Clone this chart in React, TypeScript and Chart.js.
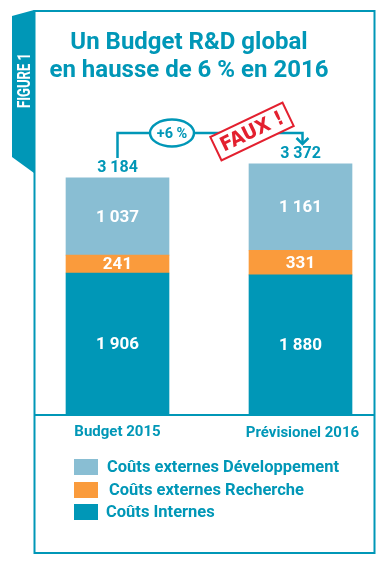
import React, { useEffect, useRef } from "react";
import { Chart, registerables } from "chart.js";

Chart.register(...registerables);

const categories = ["Budget 2015", "Prévisionel 2016"];
const coutsInternes = [1906, 1880];
const coutsRecherche = [241, 331];
const coutsDeveloppement = [1037, 1161];
const totals = [3184, 3372];
const seriesNames = ["Coûts externes Développement", "Coûts externes Recherche", "Coûts Internes"];
const titleLines = ["Un Budget R&D global", "en hausse de 6 % en 2016"];
const growthLabel = "+6 %";
const stampLabel = "FAUX !";
const figureLabel = "FIGURE 1";

const TEAL = "#0097b7";
const LIGHT = "#89bed3";
const ORANGE = "#fa9b3c";
const RED = "#e3202f";

const fmt = (n: number) => n.toString().replace(/\B(?=(\d{3})+(?!\d))/g, " ");

const decorPlugin = {
  id: "decor",
  beforeDraw(chart: any) {
    const ctx = chart.ctx as CanvasRenderingContext2D;
    ctx.save();
    ctx.fillStyle = "#ffffff";
    ctx.fillRect(0, 0, chart.width, chart.height);
    // frame
    ctx.strokeStyle = TEAL;
    ctx.lineWidth = 2;
    ctx.strokeRect(34.5, 11, 340, 542);
    // tab
    ctx.fillStyle = TEAL;
    ctx.beginPath();
    ctx.moveTo(12, 16);
    ctx.lineTo(34, 10);
    ctx.lineTo(34, 173);
    ctx.lineTo(12, 157);
    ctx.closePath();
    ctx.fill();
    // FIGURE 1
    ctx.save();
    ctx.translate(25, 80.5);
    ctx.rotate(-Math.PI / 2);
    ctx.font = "bold 18px Roboto";
    const w = ctx.measureText(figureLabel).width;
    ctx.scale(55 / w, 1);
    ctx.fillStyle = "#ffffff";
    ctx.textAlign = "center";
    ctx.textBaseline = "middle";
    ctx.fillText(figureLabel, 0, 0);
    ctx.restore();
    // title
    ctx.fillStyle = TEAL;
    ctx.font = "bold 24px Roboto";
    ctx.textAlign = "center";
    ctx.textBaseline = "middle";
    ctx.fillText(titleLines[0], 189, 43);
    ctx.fillText(titleLines[1], 189, 71);
    ctx.restore();
  },
  afterDatasetsDraw(chart: any) {
    const ctx = chart.ctx as CanvasRenderingContext2D;
    ctx.save();
    ctx.textAlign = "center";
    ctx.textBaseline = "middle";
    // values inside bars
    ctx.fillStyle = "#ffffff";
    ctx.font = "bold 17px Roboto";
    chart.data.datasets.forEach((ds: any, di: number) => {
      const meta = chart.getDatasetMeta(di);
      meta.data.forEach((bar: any, i: number) => {
        const cy = (bar.y + bar.base) / 2;
        ctx.fillText(fmt(ds.data[i]), bar.x, cy + 1);
      });
    });
    // totals
    const topMeta = chart.getDatasetMeta(chart.data.datasets.length - 1);
    ctx.fillStyle = TEAL;
    ctx.font = "bold 16px Roboto";
    topMeta.data.forEach((bar: any, i: number) => {
      ctx.fillText(fmt(totals[i]), bar.x, bar.y - 10);
    });
    // axis line
    const area = chart.chartArea;
    ctx.strokeStyle = TEAL;
    ctx.lineWidth = 2;
    ctx.beginPath();
    ctx.moveTo(34, area.bottom);
    ctx.lineTo(375, area.bottom);
    ctx.stroke();
    // category labels
    ctx.font = "bold 15px Roboto";
    const xs = chart.scales.x;
    categories.forEach((c, i) => {
      ctx.fillText(c, xs.getPixelForValue(i) + (i === 1 ? 2 : 0), area.bottom + 17 + i * 1.5);
    });
    // annotation bracket
    const x0 = topMeta.data[0].x;
    const x1 = topMeta.data[1].x + 2;
    const yb = 133;
    ctx.lineWidth = 2.5;
    ctx.beginPath();
    ctx.moveTo(x0, 158);
    ctx.lineTo(x0, yb);
    ctx.lineTo(x1, yb);
    ctx.lineTo(x1, 144);
    ctx.stroke();
    ctx.beginPath();
    ctx.moveTo(x1 - 6, 138);
    ctx.lineTo(x1, 144);
    ctx.lineTo(x1 + 6, 138);
    ctx.stroke();
    // ellipse
    ctx.fillStyle = "#ffffff";
    ctx.beginPath();
    ctx.ellipse(172, yb, 22, 13.5, 0, 0, Math.PI * 2);
    ctx.fill();
    ctx.stroke();
    ctx.fillStyle = TEAL;
    ctx.font = "bold 14.5px Roboto";
    ctx.fillText(growthLabel, 172, yb + 1);
    // stamp
    ctx.save();
    ctx.translate(252, 131.5);
    ctx.rotate((-25.5 * Math.PI) / 180);
    ctx.fillStyle = "#ffffff";
    ctx.fillRect(-40, -13, 80, 26);
    ctx.strokeStyle = RED;
    ctx.lineWidth = 2;
    ctx.strokeRect(-40, -13, 80, 26);
    ctx.fillStyle = RED;
    ctx.font = "900 20px 'DejaVu Sans'";
    const sw = ctx.measureText(stampLabel).width;
    ctx.scale(68 / sw, 1);
    ctx.fillText(stampLabel, 0, 1);
    ctx.restore();
    // legend
    const colors = [LIGHT, ORANGE, TEAL];
    const rowsY = [467, 490, 512];
    const textX = [107, 109, 106];
    ctx.textAlign = "left";
    ctx.font = "bold 16.5px Roboto";
    seriesNames.forEach((name, i) => {
      ctx.fillStyle = colors[i];
      ctx.fillRect(74, rowsY[i] - 8, 24, 16);
      ctx.fillStyle = TEAL;
      ctx.fillText(name, textX[i], rowsY[i] + 1);
    });
    ctx.restore();
  },
};

export default function App() {
  const ref = useRef<HTMLCanvasElement | null>(null);
  useEffect(() => {
    if (!ref.current) return;
    const chart = new Chart(ref.current, {
      type: "bar",
      data: {
        labels: categories,
        datasets: [
          { label: seriesNames[2], data: coutsInternes, backgroundColor: TEAL },
          { label: seriesNames[1], data: coutsRecherche, backgroundColor: ORANGE },
          { label: seriesNames[0], data: coutsDeveloppement, backgroundColor: LIGHT },
        ].map((d) => ({ ...d, barThickness: 103, borderWidth: 0, clip: false as any })),
      },
      options: {
        animation: false,
        responsive: false,
        devicePixelRatio: 1,
        layout: { padding: { left: 117.5, right: 87.5, top: 117, bottom: 152 } },
        plugins: { legend: { display: false }, tooltip: { enabled: false }, title: { display: false } },
        scales: {
          x: { type: "category", offset: false, stacked: true, display: false },
          y: { stacked: true, min: 0, max: 4000, display: false },
        },
      },
      plugins: [decorPlugin],
    });
    return () => chart.destroy();
  }, []);
  return (
    <div style={{ position: "absolute", left: 0, top: 0, width: 388, height: 567 }}>
      <canvas ref={ref} width={388} height={567} style={{ width: 388, height: 567, display: "block" }} />
    </div>
  );
}
